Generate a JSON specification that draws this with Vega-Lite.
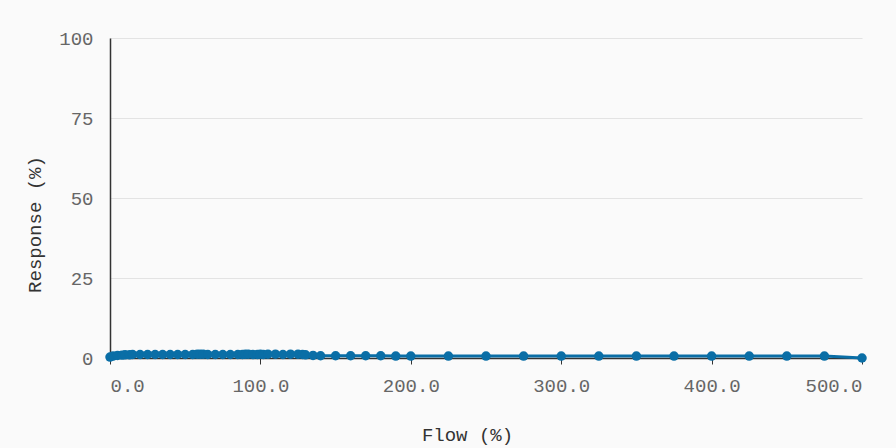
{
  "$schema": "https://vega.github.io/schema/vega-lite/v6.json",
  "width": 752,
  "height": 320,
  "autosize": {"type": "none"},
  "padding": {"left": 110, "top": 38, "right": 34, "bottom": 90},
  "background": "#fafafa",
  "config": {
    "view": {"stroke": null},
    "font": "Liberation Mono",
    "axis": {
      "labelFont": "Liberation Mono",
      "titleFont": "Liberation Mono",
      "labelFontSize": 19,
      "titleFontSize": 19,
      "labelColor": "#666666",
      "titleColor": "#333333",
      "titleFontWeight": "normal",
      "domainColor": "#333333",
      "tickColor": "#333333"
    }
  },
  "data": {
    "values": [
      {"flow": 0, "response": 0.3},
      {"flow": 2, "response": 0.6},
      {"flow": 5, "response": 0.8},
      {"flow": 8, "response": 0.9},
      {"flow": 10, "response": 1.0},
      {"flow": 13, "response": 1.0},
      {"flow": 15, "response": 1.1},
      {"flow": 20, "response": 1.1},
      {"flow": 25, "response": 1.1},
      {"flow": 30, "response": 1.1},
      {"flow": 35, "response": 1.1},
      {"flow": 40, "response": 1.1},
      {"flow": 45, "response": 1.1},
      {"flow": 50, "response": 1.1},
      {"flow": 55, "response": 1.1},
      {"flow": 58, "response": 1.2},
      {"flow": 60, "response": 1.2},
      {"flow": 62, "response": 1.2},
      {"flow": 65, "response": 1.1},
      {"flow": 70, "response": 1.1},
      {"flow": 75, "response": 1.1},
      {"flow": 80, "response": 1.1},
      {"flow": 85, "response": 1.1},
      {"flow": 88, "response": 1.1},
      {"flow": 90, "response": 1.2},
      {"flow": 92, "response": 1.2},
      {"flow": 95, "response": 1.1},
      {"flow": 98, "response": 1.1},
      {"flow": 100, "response": 1.2},
      {"flow": 102, "response": 1.1},
      {"flow": 105, "response": 1.2},
      {"flow": 110, "response": 1.2},
      {"flow": 115, "response": 1.1},
      {"flow": 120, "response": 1.2},
      {"flow": 125, "response": 1.2},
      {"flow": 128, "response": 1.1},
      {"flow": 130, "response": 1.0},
      {"flow": 135, "response": 0.8},
      {"flow": 140, "response": 0.7},
      {"flow": 150, "response": 0.7},
      {"flow": 160, "response": 0.7},
      {"flow": 170, "response": 0.7},
      {"flow": 180, "response": 0.7},
      {"flow": 190, "response": 0.6},
      {"flow": 200, "response": 0.6},
      {"flow": 225, "response": 0.6},
      {"flow": 250, "response": 0.6},
      {"flow": 275, "response": 0.6},
      {"flow": 300, "response": 0.6},
      {"flow": 325, "response": 0.6},
      {"flow": 350, "response": 0.6},
      {"flow": 375, "response": 0.6},
      {"flow": 400, "response": 0.6},
      {"flow": 425, "response": 0.6},
      {"flow": 450, "response": 0.6},
      {"flow": 475, "response": 0.6},
      {"flow": 500, "response": 0.0}
    ]
  },
  "encoding": {
    "x": {
      "field": "flow",
      "type": "quantitative",
      "title": "Flow (%)",
      "scale": {"domain": [0, 500], "nice": false, "zero": false},
      "axis": {
        "values": [0, 100, 200, 300, 400, 500],
        "format": ".1f",
        "grid": false,
        "tickSize": 6,
        "labelPadding": 12,
        "titleX": 357,
        "titleY": 76,
        "titleBaseline": "middle",
        "titleAnchor": "middle",
        "domainWidth": 1.5
      }
    },
    "y": {
      "field": "response",
      "type": "quantitative",
      "title": "Response (%)",
      "scale": {"domain": [0, 100], "nice": false},
      "axis": {
        "values": [0, 25, 50, 75, 100],
        "grid": true,
        "gridColor": "#e3e3e3",
        "ticks": false,
        "labelPadding": 17,
        "titleX": -76,
        "titleY": 186,
        "titleBaseline": "middle",
        "titleAnchor": "middle",
        "domainWidth": 1.5
      }
    }
  },
  "layer": [
    {"mark": {"type": "line", "color": "#0a6ea6", "strokeWidth": 3}},
    {"mark": {"type": "point", "filled": true, "shape": "circle", "size": 90, "color": "#0a6ea6", "opacity": 1}}
  ]
}
